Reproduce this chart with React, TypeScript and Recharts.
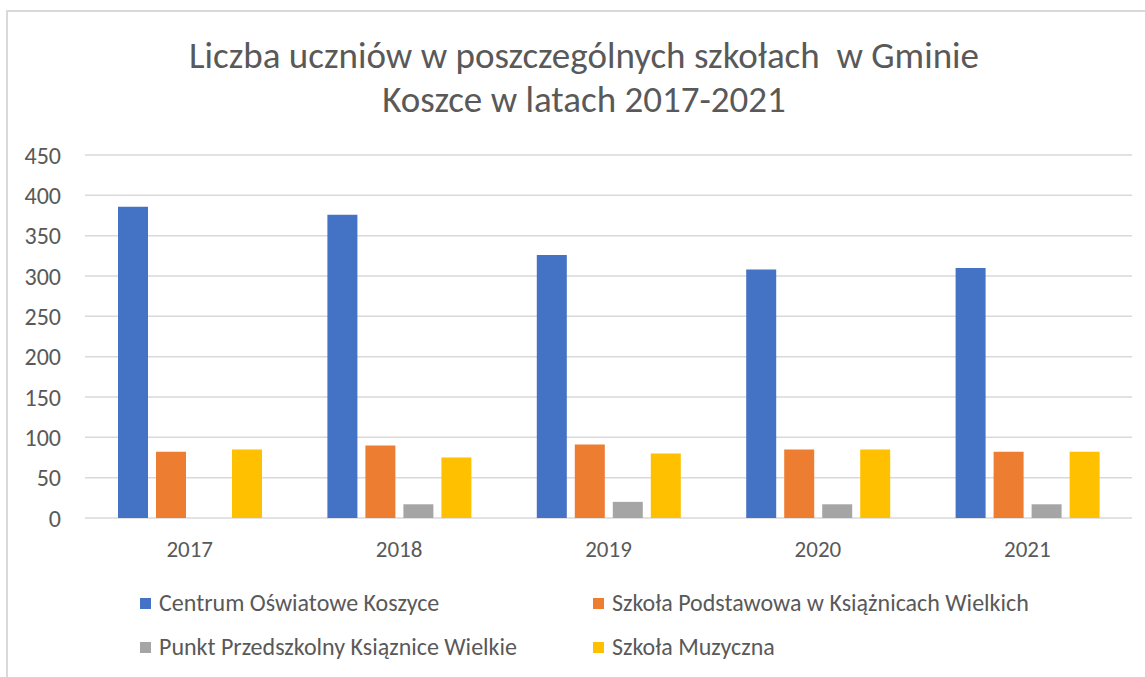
import React from 'react';
import { BarChart, Bar, XAxis, YAxis, CartesianGrid } from 'recharts';

const years = ['2017', '2018', '2019', '2020', '2021'];
const centrum = [386, 376, 326, 308, 310];
const szkolaPodstawowa = [82, 90, 91, 85, 82];
const punktPrzedszkolny = [null, 17, 20, 17, 17];
const szkolaMuzyczna = [85, 75, 80, 85, 82];
const yTicks = [0, 50, 100, 150, 200, 250, 300, 350, 400, 450];

const seriesNames = [
  'Centrum Oświatowe Koszyce',
  'Szkoła Podstawowa w Książnicach Wielkich',
  'Punkt Przedszkolny Ksiąznice Wielkie',
  'Szkoła Muzyczna',
];
const seriesKeys = ['s1', 's2', 's3', 's4'];
const seriesColors = ['#4472C4', '#ED7D31', '#A5A5A5', '#FFC000'];

const data = years.map((y, i) => ({
  year: y,
  s1: centrum[i],
  s2: szkolaPodstawowa[i],
  s3: punktPrzedszkolny[i],
  s4: szkolaMuzyczna[i],
}));

const FONT = "Carlito, Lato, 'Open Sans', sans-serif";
const TEXT = '#595959';

export default function App() {
  return (
    <div style={{ position: 'absolute', left: 0, top: 0, width: 1145, height: 677, background: '#fff', overflow: 'hidden', fontFamily: FONT }}>
      <div style={{ position: 'absolute', left: 6, top: 10, width: 1200, height: 700, borderLeft: '2px solid #d9d9d9', borderTop: '2px solid #d9d9d9' }} />
      <div style={{ position: 'absolute', left: 0, top: 34, width: 1168, textAlign: 'center', fontSize: 37, lineHeight: '44px', color: TEXT, fontWeight: 300 }}>
        <div>Liczba uczniów w poszczególnych szkołach&nbsp; w Gminie</div>
        <div>Koszce w latach 2017-2021</div>
      </div>
      <div style={{ position: 'absolute', left: 0, top: 0 }}>
        <BarChart
          width={1145}
          height={677}
          data={data}
          margin={{ top: 155, right: 13, bottom: 99, left: 25 }}
          barCategoryGap={33}
          barGap={8}
        >
          <CartesianGrid vertical={false} stroke="#d9d9d9" strokeWidth={1.5} />
          <XAxis
            dataKey="year"
            axisLine={false}
            tickLine={false}
            tickSize={0}
            tickMargin={23}
            height={60}
            tick={{ fill: TEXT, fontSize: 23, fontFamily: FONT }}
          />
          <YAxis
            domain={[0, 450]}
            ticks={yTicks}
            interval={0}
            axisLine={false}
            tickLine={false}
            tickSize={0}
            tickMargin={24}
            width={60}
            tick={{ fill: TEXT, fontSize: 24, fontFamily: FONT }}
          />
          {seriesKeys.map((k, i) => (
            <Bar key={k} dataKey={k} name={seriesNames[i]} fill={seriesColors[i]} isAnimationActive={false} />
          ))}
        </BarChart>
      </div>
      {seriesNames.map((n, i) => (
        <div
          key={n}
          style={{
            position: 'absolute',
            left: i % 2 === 0 ? 140 : 593,
            top: i < 2 ? 590 : 634,
            display: 'flex',
            alignItems: 'center',
            fontSize: 24,
            color: TEXT,
            whiteSpace: 'nowrap',
            lineHeight: '26px',
          }}
        >
          <span style={{ display: 'inline-block', width: 11, height: 11, background: seriesColors[i], marginRight: 8 }} />
          <span>{n}</span>
        </div>
      ))}
    </div>
  );
}
